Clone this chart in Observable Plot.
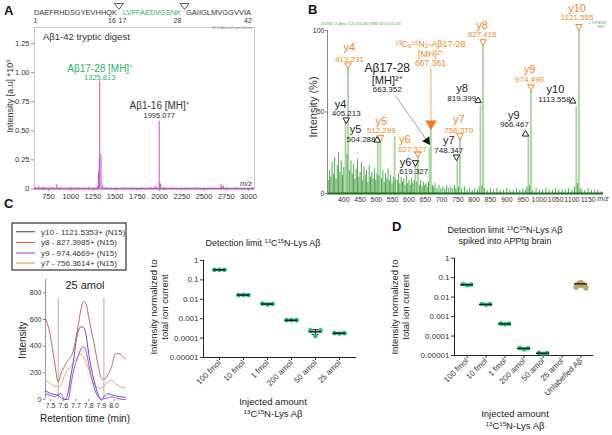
<!DOCTYPE html>
<html><head><meta charset="utf-8">
<script src="https://cdn.jsdelivr.net/npm/d3@7"></script>
<script src="https://cdn.jsdelivr.net/npm/@observablehq/plot@0.6"></script>
<style>
html,body{margin:0;padding:0;background:#fff;}
#root{position:relative;width:612px;height:435px;overflow:hidden;background:#fff;}
</style></head>
<body><div id="root"></div>
<script>
const FONT = '"Liberation Sans", Arial, Helvetica, sans-serif';

// ---------- Panel A data ----------
const aMz  = [600,640,680,700,760,800,842,880,950,1000,1080,1150,1200,1260,1300,1312,1325.8,1360,1400,1500,1600,1700,1800,1900,1940,1960,1995.1,2002,2012,2050,2150,2300,2400,2500,2600,2690,2700,2720,2760,2850,2950,3040];
const aInt = [0.012,0.02,0.012,0.015,0.01,0.012,0.035,0.01,0.008,0.012,0.01,0.009,0.012,0.01,0.02,0.14,0.925,0.02,0.01,0.008,0.01,0.008,0.01,0.012,0.015,0.02,0.583,0.05,0.04,0.01,0.008,0.008,0.01,0.006,0.008,0.035,0.02,0.025,0.012,0.008,0.008,0.01];
const aSideMz  = [1318,1322,1330,1336,1341,1348];
const aSideInt = [0.16,0.25,0.2,0.3,0.28,0.08];
const aXTicks = [750,1000,1250,1500,1750,2000,2250,2500,2750,3000];
const aYTicks = [0,0.25,0.5,0.75,1,1.25];
const aYTickLabels = ["0","0.25","0.50","0.75","1.00","1.25"];
const aPeakLabels = [
  {t:"Aβ17-28 [MH]⁺", mz:1325.8, y:1.003, fs:10, c:"#2bb36b"},
  {t:"1325.813",      mz:1325.8, y:0.934, fs:7.5, c:"#2bb36b"},
  {t:"Aβ1-16 [MH]⁺",  mz:1995.1, y:0.69,  fs:10, c:"#333"},
  {t:"1995.077",      mz:1995.1, y:0.615, fs:7.5, c:"#333"}
];

// ---------- Panel B data ----------
const bPeakMz  = [405.213,413.231,504.288,512.299,556,619.327,627.327,663.352,667.361,748.347,756.370,819.399,827.416,966.467,974.490,1113.558,1121.555];
const bPeakInt = [44,77,31,33,35,17.5,23,28,40,21,34,54,92,36,64,53,100];
const bNoiseMz  = [352,356,360,364,368,372,376,380,384,388,392,396,400,410,418,422,426,430,434,438,442,446,450,454,458,462,466,470,474,478,482,486,490,494,498,502,508,516,520,524,528,532,536,540,544,548,552,558,564,568,572,576,580,584,588,592,596,600,604,608,612,616,624,632,636,640,644,648,652,656,660,672,676,680,686,692,698,704,710,716,722,728,734,740,744,752,762,770,778,786,794,802,810,815,824,832,840,850,860,870,880,890,900,910,920,930,940,950,958,962,970,980,990,1000,1010,1020,1030,1040,1050,1060,1070,1080,1090,1100,1108,1117,1125,1130,1140,1150,1160,1170,1180,1190];
const bNoiseInt = [8,14,10,19,12,22,9,17,25,13,20,11,16,24,14,20,12,18,9,15,21,10,13,19,8,16,11,14,7,17,10,13,9,15,8,12,11,9,14,7,12,9,15,8,11,6,10,9,8,12,6,10,7,9,5,11,6,8,5,9,6,8,7,5,8,4,7,5,6,4,7,5,4,6,3,5,3,4,3,5,3,4,3,5,3,4,3,4,2,3,2,3,2,4,5,3,2,3,2,3,2,2,3,2,2,3,2,3,2,4,5,2,3,2,2,3,2,2,3,2,2,2,3,2,4,6,3,2,2,3,2,2,2,1];
const bXTicks = [400,450,500,550,600,650,700,750,800,850,900,950,1000,1050,1100,1150];
const bYTicks = [0,50,100];
const ORANGE = "#f08a22";
// label text, m/z position, intensity position, colour key, font size, anchor
const bLabels = [
  ["y4",417,87.7,"o",11,"middle"],["413.231",417,80.9,"o",8,"middle"],
  ["y8",824.7,101.2,"o",11,"middle"],["827.416",824.7,95.9,"o",8,"middle"],
  ["y10",1116,111.4,"o",11,"middle"],["1121.555",1116,106.2,"o",8,"middle"],
  ["y9",969.8,73.7,"o",11,"middle"],["974.490",969.8,68.2,"o",8,"middle"],
  ["y5",514.8,42.2,"o",11,"middle"],["512.299",514.8,37,"o",8,"middle"],
  ["y6",587.2,30.8,"o",11,"middle"],["627.327",610.8,25.3,"o",8,"middle"],
  ["y7",752.9,43.2,"o",11,"middle"],["756.370",752.9,37.4,"o",8,"middle"],
  ["¹³C₆¹⁵N₂-Aβ17-28",666,89.7,"o",9,"middle"],["[MH]²⁺",666,84,"o",9,"middle"],["667.361",666,78.5,"o",8.5,"middle"],
  ["Aβ17-28",533.2,74.3,"k",12,"middle"],["[MH]²⁺",533.2,67.2,"k",11,"middle"],["663.352",533.2,62,"k",8,"middle"],
  ["y4",389.9,52.4,"k",11,"middle"],["405.213",407.4,47.3,"k",8,"middle"],
  ["y5",435.9,37,"k",11,"middle"],["504.288",497.3,31.9,"k",8,"end"],
  ["y6",589.2,16.9,"k",11,"middle"],["619.327",614.8,12.2,"k",8,"middle"],
  ["y7",722.2,30.3,"k",11,"middle"],["748.347",722.2,25.1,"k",8,"middle"],
  ["y8",763.3,62,"k",11,"middle"],["819.399",806.3,56.9,"k",8,"end"],
  ["y9",921.6,45.7,"k",11,"middle"],["966.467",923.8,40.5,"k",8,"middle"],
  ["y10",1049.6,61.7,"k",11,"middle"],["1113.558",1095.6,55.9,"k",8,"end"]
];
const bTriOrangeDown = [[413.231,79],[827.416,93.2],[1121.555,102.5],[974.49,65.5],[512.6,34.5],[627.327,24.2],[756.37,35.5]];
const bTriBlackDown  = [[407.4,45.2],[620,19],[745.8,22.5]];
const bTriBlackUp    = [[502.5,32.7],[812.4,56.9],[957.5,36.4],[1102.7,56.6]];
const bHeavyLine  = [{mz:667.36, y1:44.6, y2:76.6}];
const bHeavyArrow = [{mz:667.36, y:42.8}];
const bLightArrow = [{x1:558.6, y1:60, x2:655.9, y2:32.3}];

// ---------- Panel C (left) data ----------
const cRt  = [7.46,7.50,7.53,7.56,7.58,7.61,7.64,7.66,7.68,7.70,7.72,7.74,7.76,7.78,7.80,7.82,7.84,7.86,7.88,7.90,7.92,7.95,7.98,8.01,8.04,8.07,8.09];
const cY10 = [64,45,38,30,15,0,60,180,290,430,520,545,540,480,345,240,150,80,25,0,20,45,35,28,22,18,15];
const cY8  = [612,470,290,132,190,250,300,320,370,460,570,680,735,715,620,520,430,330,230,160,150,185,245,340,345,320,305];
const cY9  = [40,30,22,38,45,0,0,110,212,280,330,380,395,360,270,170,100,45,10,0,5,12,20,12,5,0,0];
const cY7  = [145,120,100,95,105,180,230,245,280,310,330,340,315,280,230,170,115,100,85,82,100,130,145,118,100,90,85];
const cBounds = [7.56, 7.92];
const cLegend = ["y10 - 1121.5353+ (N15)","y8 - 827.3985+ (N15)","y9 - 974.4669+ (N15)","y7 - 756.3614+ (N15)"];
const cColors = ["#5a50d4","#c76666","#a551dc","#eba460"];
const cXTicks = [7.5,7.6,7.7,7.8,7.9,8.0];
const cYTicks = [0,200,400,600,800];

// ---------- Panel C (right) data ----------
const cCats  = ["100 fmol","10 fmol","1 fmol","200 amol","50 amol","25 amol"];
const cRep1  = [0.33,0.0165,0.0060,0.00083,0.00025,0.00018];
const cRep2  = [0.33,0.0168,0.0054,0.00083,0.000128,0.000172];
const cRep3  = [0.33,0.0165,0.0058,0.00083,0.00025,0.00018];
const cMean  = [0.33,0.0166,0.0057,0.00083,0.00021,0.000177];
const cErrLo = [0.32,0.0163,0.0055,0.00081,0.000155,0.00017];
const cErrHi = [0.34,0.0169,0.0059,0.00085,0.00027,0.000185];
const logTicks = [1,0.1,0.01,0.001,0.0001,0.00001];
const logTickLabels = ["1","0.1","0.01","0.001","0.0001","0.00001"];

// ---------- Panel D data ----------
const dCats  = ["100 fmol","10 fmol","1 fmol","200 amol","50 amol","25 amol","Unlabelled Aβ"];
const dRep1  = [0.047,0.0044,0.00044,0.000024,0.0000138,null,null];
const dRep2  = [0.041,0.0040,0.00040,0.000021,0.0000122,null,null];
const dRep3  = [0.044,0.0043,0.00043,0.000023,0.0000132,null,null];
const dMean  = [0.043,0.0042,0.00042,0.000023,0.000013,null,0.048];
const dUnlabelled = [0.058,0.052,0.046,0.041,0.036,0.032,0.029,0.04];

const GREEN = "#26c07a";
const TAN = "#b8a56c";
const repDx = [-5,0,5];
const tanDx = [0,-2,2,-4,4,-5,5,0];

const root = document.getElementById("root");
function place(svg, left, top){
  svg.style.position = "absolute"; svg.style.left = left+"px"; svg.style.top = top+"px";
  svg.style.overflow = "visible"; svg.style.maxWidth = "none";
  root.appendChild(svg);
}
const baseStyle = (fs) => ({fontFamily: FONT, fontSize: fs, color: "#333", background: "transparent"});

// ---------- Plot A ----------
const specA = aMz.map((mz,i)=>({mz, v:aInt[i]}));
const sideA = aSideMz.map((mz,i)=>({mz, v:aSideInt[i]}));
const MAG = "#c64ec6";
const plotA = Plot.plot({
  width: 310, height: 215, marginLeft: 34, marginRight: 56, marginTop: 27, marginBottom: 26,
  style: baseStyle("7.5px"),
  x: {domain: [592, 3068], label: null}, y: {domain: [-0.005, 1.39], label: null},
  marks: [
    Plot.frame({stroke: "#c8c8c8"}),
    Plot.ruleY([0.004], {stroke: MAG, strokeWidth: 1.4}),
    Plot.ruleX(sideA, {x:"mz", y1:0, y2:"v", stroke:"#e3a4e3", strokeWidth:1.6}),
    Plot.ruleX(specA, {x:"mz", y1:0, y2:"v", stroke: MAG, strokeWidth: 1}),
    Plot.axisX({ticks: aXTicks, label: null, tickSize: 2, tickPadding: 2, tickFormat: d=>String(d), stroke:"#999"}),
    Plot.axisY({ticks: aYTicks, label: null, tickSize: 3, tickPadding: 2, tickFormat: d=>aYTickLabels[aYTicks.indexOf(d)], stroke:"#999"}),
    Plot.text(aPeakLabels, {x:"mz", y:"y", text:"t", fill:"c", fontSize:"fs", lineAnchor:"bottom", textAnchor:"middle"})
  ]
});
place(plotA, 0, 0);

// ---------- Plot B ----------
const noiseB = bNoiseMz.map((mz,i)=>({mz, v:bNoiseInt[i]}));
const peaksB = bPeakMz.map((mz,i)=>({mz, v:bPeakInt[i]}));
const labB = bLabels.map(([t,mz,y,c,fs,a])=>({t,mz,y,fill: c==="o"?ORANGE:"#222",fs,a}));
const tri = (arr)=>arr.map(([mz,y])=>({mz,y}));
const plotB = Plot.plot({
  width: 302, height: 215, marginLeft: 17, marginRight: 9, marginTop: 30, marginBottom: 22,
  style: baseStyle("7px"),
  x: {domain: [350, 1197], label: null}, y: {domain: [0, 100], label: null},
  marks: [
    Plot.ruleX(peaksB, {x:"mz", y1:0, y2:"v", stroke:"#a3d89c", strokeWidth:1.8}),
    Plot.ruleX(noiseB, {x:"mz", y1:0, y2:"v", stroke:"#3e9c3e", strokeWidth:0.9}),
    Plot.ruleY([0], {stroke:"#1f6e1f", strokeWidth:2}),
    Plot.frame({anchor:"left", stroke:"#888"}),
    Plot.axisX({ticks: bXTicks, label: null, tickSize: 0, tickPadding: 4, tickFormat: d=>String(d)}),
    Plot.axisY({ticks: bYTicks, label: null, tickSize: 2, tickPadding: 1, tickFormat: d=>String(d), stroke:"#888"}),
    Plot.ruleX(bHeavyLine, {x:"mz", y1:"y1", y2:"y2", stroke:"#f6b777", strokeWidth:1.2}),
    Plot.dot(bHeavyArrow, {x:"mz", y:"y", symbol:"triangle", rotate:180, r:4.2, fill:"#f07d18", stroke:"none"}),
    Plot.arrow(bLightArrow, {x1:"x1", y1:"y1", x2:"x2", y2:"y2", stroke:"#8a8a8a", strokeWidth:0.8, headLength:0}),
    Plot.dot([bLightArrow[0]], {x:"x2", y:"y2", symbol:"triangle", rotate:145, r:3.2, fill:"#111", stroke:"none"}),
    Plot.dot(tri(bTriOrangeDown), {x:"mz", y:"y", symbol:"triangle", rotate:180, r:2.4, stroke:ORANGE, fill:"white", strokeWidth:1}),
    Plot.dot(tri(bTriBlackDown), {x:"mz", y:"y", symbol:"triangle", rotate:180, r:2.4, stroke:"#222", fill:"white", strokeWidth:1}),
    Plot.dot(tri(bTriBlackUp), {x:"mz", y:"y", symbol:"triangle", r:2.4, stroke:"#222", fill:"white", strokeWidth:1}),
    Plot.text(labB.filter(d=>d.a==="middle"), {x:"mz", y:"y", text:"t", fill:"fill", fontSize:"fs", lineAnchor:"bottom", textAnchor:"middle"}),
    Plot.text(labB.filter(d=>d.a==="end"), {x:"mz", y:"y", text:"t", fill:"fill", fontSize:"fs", lineAnchor:"bottom", textAnchor:"end"})
  ]
});
place(plotB, 310, 0);

// ---------- Plot C left ----------
const series = [cY10, cY8, cY9, cY7];
const plotC1 = Plot.plot({
  width: 140, height: 185, marginLeft: 45, marginRight: 15, marginTop: 29, marginBottom: 36,
  style: baseStyle("7px"),
  x: {domain: [7.46, 8.09], label: null}, y: {domain: [0, 900], label: null},
  marks: [
    Plot.ruleX(cBounds, {y1:0, y2:760, stroke:"#b0b0b0", strokeWidth:1}),
    Plot.frame({anchor:"left", stroke:"#888", strokeDasharray:"1.5,1.5"}),
    ...[3,2,0,1].map(k => Plot.lineY(cRt.map((t,i)=>({t, v:series[k][i]})), {x:"t", y:"v", stroke:cColors[k], strokeWidth:1, curve:"monotone-x"})),
    Plot.axisY({ticks: cYTicks, label: null, tickSize: 2, tickPadding: 2, stroke:"#888"}),
    Plot.axisX({ticks: cXTicks, label: null, tickSize: 2, tickPadding: 2, tickFormat: d=>d.toFixed(1), stroke:"#888"})
  ]
});
place(plotC1, 0, 250);

// ---------- Plot C right ----------
const cRows = cCats.flatMap((cat,i)=>[cRep1[i],cRep2[i],cRep3[i]].map((v,r)=>({cat,v,r})));
const cStats = cCats.map((cat,i)=>({cat, m:cMean[i], lo:cErrLo[i], hi:cErrHi[i]}));
const plotC2 = Plot.plot({
  width: 225, height: 185, marginLeft: 63, marginRight: 10, marginTop: 10, marginBottom: 78,
  style: baseStyle("8px"),
  x: {type:"band", domain: cCats, paddingInner: 0, paddingOuter: 0.094, label: null},
  y: {type:"log", domain: [1e-5, 1], label: null},
  marks: [
    Plot.frame({anchor:"left", stroke:"#222"}),
    Plot.frame({anchor:"bottom", stroke:"#222"}),
    Plot.ruleX(cStats, {x:"cat", y1:"lo", y2:"hi", stroke:"#111"}),
    Plot.tickY(cStats, {x:"cat", y:"lo", stroke:"#111", insetLeft:8.5, insetRight:8.5}),
    Plot.tickY(cStats, {x:"cat", y:"hi", stroke:"#111", insetLeft:8.5, insetRight:8.5}),
    ...[0,1,2].map(r=>Plot.dot(cRows.filter(d=>d.r===r), {x:"cat", y:"v", dx:repDx[r], r:2.4, fill:GREEN})),
    Plot.tickY(cStats, {x:"cat", y:"m", stroke:"#111", strokeWidth:1.4, insetLeft:5.8, insetRight:5.8}),
    Plot.axisY({ticks: logTicks, label: null, tickSize: 3, tickPadding: 2, tickFormat: d=>logTickLabels[logTicks.indexOf(d)]}),
    Plot.axisX({label: null, tickSize: 3, tickPadding: 1, tickRotate: -45})
  ]
});
place(plotC2, 140, 250);

// ---------- Plot D ----------
const dRows = dCats.flatMap((cat,i)=>[dRep1[i],dRep2[i],dRep3[i]].map((v,r)=>({cat,v,r}))).filter(d=>d.v!=null);
const dTan = dUnlabelled.map((v,r)=>({cat:dCats[6], v, r}));
const dStats = dCats.map((cat,i)=>({cat, m:dMean[i]})).filter(d=>d.m!=null);
const plotD = Plot.plot({
  width: 232, height: 195, marginLeft: 74, marginRight: 20, marginTop: 17.7, marginBottom: 80,
  style: baseStyle("8px"),
  x: {type:"band", domain: dCats, paddingInner: 0, paddingOuter: 0, label: null},
  y: {type:"log", domain: [1e-5, 1], label: null},
  marks: [
    Plot.frame({anchor:"left", stroke:"#222"}),
    Plot.frame({anchor:"bottom", stroke:"#222"}),
    ...[0,1,2].map(r=>Plot.dot(dRows.filter(d=>d.r===r), {x:"cat", y:"v", dx:repDx[r]*0.8, r:2.4, fill:GREEN})),
    ...tanDx.map((dx,r)=>Plot.dot(dTan.filter(d=>d.r===r), {x:"cat", y:"v", dx, r:2.6, fill:TAN})),
    Plot.tickY(dStats, {x:"cat", y:"m", stroke:"#111", strokeWidth:1.3, insetLeft:3, insetRight:3}),
    Plot.axisY({ticks: logTicks, label: null, tickSize: 3, tickPadding: 2, tickFormat: d=>logTickLabels[logTicks.indexOf(d)]}),
    Plot.axisX({label: null, tickSize: 3, tickPadding: 1, tickRotate: -45})
  ]
});
place(plotD, 380, 240);

// ---------- Overlay texts ----------
const ov = d3.select(root).append("svg").attr("width",612).attr("height",435)
  .style("position","absolute").style("left","0px").style("top","0px").style("overflow","visible");
function txt(parts, x, y, o={}){
  const t = ov.append("text").attr("x",x).attr("y",y).attr("font-family",FONT)
    .attr("font-size",o.fs||9).attr("fill",o.c||"#333").attr("text-anchor",o.a||"start");
  if (o.b) t.attr("font-weight","bold");
  if (o.i) t.attr("font-style","italic");
  if (o.r) t.attr("transform",`rotate(${o.r},${x},${y})`);
  if (o.tl) t.attr("textLength",o.tl).attr("lengthAdjust","spacingAndGlyphs");
  if (typeof parts === "string") parts = [[parts]];
  for (const [s, sup] of parts){
    const sp = t.append("tspan").text(s);
    if (sup === "sup") sp.attr("baseline-shift","super").attr("font-size","65%");
  }
  return t;
}
const SUPTXT = [["13","sup"],["C"],["15","sup"],["N-Lys Aβ"]];

// panel letters
txt("A", 4, 15, {fs:13, b:true, c:"#111"});
txt("B", 308, 14, {fs:13, b:true, c:"#111"});
txt("C", 4, 208, {fs:13, b:true, c:"#111"});
txt("D", 392, 231, {fs:13, b:true, c:"#111"});

// Panel A sequence header
txt("DAEFRHDSGYEVHHQK", 34, 15, {fs:8, tl:83, c:"#333"});
txt("LVFFAEDVGSNK", 123, 15, {fs:8, tl:58, c:"#2bb36b"});
txt("GAIIGLMVGGVVIA", 186, 15, {fs:8, tl:65, c:"#333"});
txt("1", 35.5, 22.5, {fs:7, a:"middle"});
txt("16", 112, 22.5, {fs:7, a:"middle"});
txt("17", 122.5, 22.5, {fs:7, a:"middle"});
txt("28", 177.5, 22.5, {fs:7, a:"middle"});
txt("42", 248, 22.5, {fs:7, a:"middle"});
for (const cx of [119, 184.5]){
  ov.append("path").attr("d",`M${cx-4.5},3.5 L${cx+4.5},3.5 L${cx},9.5 Z`).attr("fill","white").attr("stroke","#444").attr("stroke-width",0.9);
}
txt("Aβ1-42 tryptic digest", 43, 40, {fs:9.5, c:"#333"});
txt("m/z", 246, 186, {fs:7.5, i:true, a:"middle"});
txt([["Intensity [a.u] *10"],["6","sup"]], 13, 96, {fs:9, r:-90, a:"middle"});
txt("MS 1/1 Abeta 1-42 tryptic 100 fmol", 212, 28.5, {fs:2.6, c:"#888"});

// Panel B extras
txt("Intensity (%)", 317, 107, {fs:11, r:-90, a:"middle"});
txt("m/z", 603, 200.5, {fs:7, i:true, a:"middle"});
txt("20170305_CS_Abeta_17-28_13C6-15N2_MSMS_667.36 (0.01-2.00)", 321, 25, {fs:2.6, c:"#3aa03a"});
txt("1: TOF MS MS", 589, 24, {fs:2.6, c:"#3aa03a"});
txt("7.38e3", 596, 27.5, {fs:2.6, c:"#3aa03a"});

// Panel C legend
ov.append("rect").attr("x",12).attr("y",223).attr("width",114).attr("height",47).attr("fill","white").attr("stroke","#333").attr("stroke-width",1.2);
const legY = [231.7, 242.5, 253, 263];
cLegend.forEach((s,i)=>{
  ov.append("line").attr("x1",16).attr("x2",35).attr("y1",legY[i]).attr("y2",legY[i]).attr("stroke",cColors[i]).attr("stroke-width",1.2);
  txt(s, 41, legY[i]+2.8, {fs:8, c:"#333"});
});
txt("25 amol", 85, 289, {fs:11, a:"middle", c:"#222"});
txt("Intensity", 25.5, 340, {fs:10, r:-90, a:"middle", c:"#222"});
txt("Retention time (min)", 85, 422, {fs:10, a:"middle", c:"#222"});

// Panel C right texts
txt([["Detection limit "],...SUPTXT], 263, 246, {fs:9, a:"middle", c:"#222"});
txt("Intensity normalized to", 157, 307, {fs:9.5, r:-90, a:"middle", c:"#222"});
txt("total ion current", 168, 307, {fs:9.5, r:-90, a:"middle", c:"#222"});
txt("Injected amount", 273, 405, {fs:9.5, a:"middle", c:"#222"});
txt(SUPTXT, 273, 417, {fs:9.5, a:"middle", c:"#222"});

// Panel D texts
txt([["Detection limit "],...SUPTXT], 505, 233, {fs:9, a:"middle", c:"#222"});
txt("spiked into APPtg brain", 505, 244, {fs:9, a:"middle", c:"#222"});
txt("Intensity normalized to", 398, 307, {fs:9.5, r:-90, a:"middle", c:"#222"});
txt("total ion current", 409, 307, {fs:9.5, r:-90, a:"middle", c:"#222"});
txt("Injected amount", 515, 417, {fs:9.5, a:"middle", c:"#222"});
txt(SUPTXT, 515, 429, {fs:9.5, a:"middle", c:"#222"});
</script></body></html>
